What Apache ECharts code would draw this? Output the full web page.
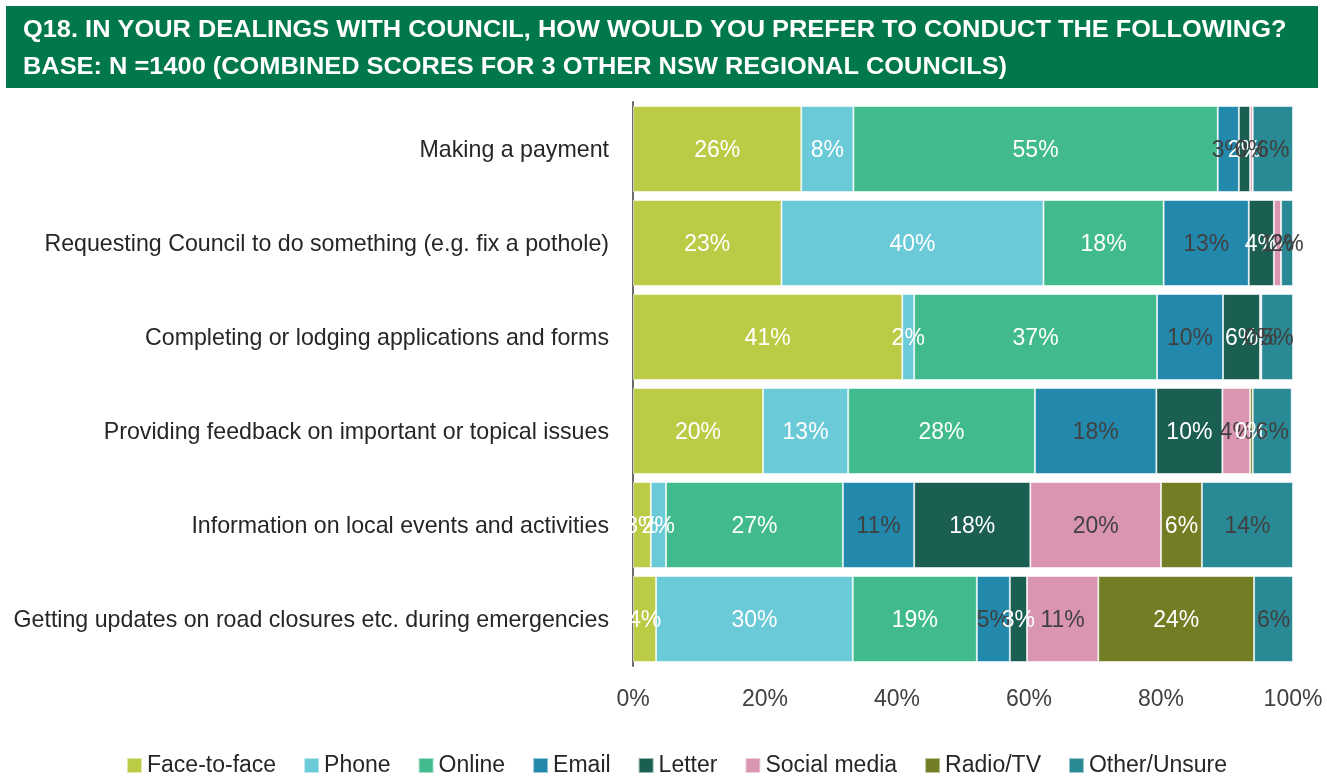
<!DOCTYPE html>
<html>
<head>
<meta charset="utf-8">
<script src="https://cdn.jsdelivr.net/npm/echarts@6/dist/echarts.min.js"></script>
<style>
  html, body { margin: 0; padding: 0; background: #fff; }
  #chart { width: 1327px; height: 776px; }
</style>
</head>
<body>
<div id="chart"></div>
<script>
// Survey rows (top to bottom)
const categories = [
  'Making a payment',
  'Requesting Council to do something (e.g. fix a pothole)',
  'Completing or lodging applications and forms',
  'Providing feedback on important or topical issues',
  'Information on local events and activities',
  'Getting updates on road closures etc. during emergencies'
];

// Preferred channel shares (%), one array per channel, in row order
const faceToFace  = [25.5, 22.5, 40.8, 19.7,  2.7,  3.5];
const phone       = [ 7.9, 39.7,  1.8, 12.9,  2.3, 29.8];
const online      = [55.2, 18.2, 36.8, 28.3, 26.8, 18.8];
const email       = [ 3.2, 12.9, 10.0, 18.4, 10.8,  5.0];
const letter      = [ 1.7,  3.8,  5.6, 10.0, 17.6,  2.6];
const socialMedia = [ 0.4,  1.1,  0.2,  4.2, 19.8, 10.8];
const radioTv     = [ 0,    0,    0,    0.4,  6.2, 23.6];
const otherUnsure = [ 6.1,  1.8,  4.8,  5.9, 13.8,  5.9];

const seriesNames = ['Face-to-face', 'Phone', 'Online', 'Email', 'Letter', 'Social media', 'Radio/TV', 'Other/Unsure'];
const seriesData  = [faceToFace, phone, online, email, letter, socialMedia, radioTv, otherUnsure];
const seriesColors = ['#BCCB45', '#6ACAD7', '#41BB8D', '#2389AC', '#1B5E52', '#DA95B0', '#737D24', '#298A96'];
const labelColors  = ['#ffffff', '#ffffff', '#ffffff', '#404040', '#ffffff', '#404040', '#ffffff', '#404040'];

const titleLines = [
  'Q18. IN YOUR DEALINGS WITH COUNCIL, HOW WOULD YOU PREFER TO CONDUCT THE FOLLOWING?',
  'BASE: N =1400 (COMBINED SCORES FOR 3 OTHER NSW REGIONAL COUNCILS)'
];

const xTicks = { min: 0, max: 100, interval: 20 };

const FONT = '"Liberation Sans", Arial, sans-serif';

const chart = echarts.init(document.getElementById('chart'), null, { renderer: 'canvas' });

const series = seriesNames.map((name, i) => ({
  name,
  type: 'bar',
  stack: 'total',
  barWidth: 86,
  data: seriesData[i],
  itemStyle: {
    color: seriesColors[i],
    borderColor: 'rgba(255,255,255,0.55)',
    borderWidth: 1
  },
  label: {
    show: true,
    position: 'inside',
    offset: [0, 2],
    color: labelColors[i],
    fontFamily: FONT,
    fontSize: 23,
    formatter: p => (p.value > 0 ? Math.round(p.value) + '%' : '')
  },
  emphasis: { disabled: true }
}));

chart.setOption({
  animation: false,
  backgroundColor: '#ffffff',
  graphic: [
    {
      type: 'rect',
      shape: { x: 6, y: 6, width: 1312, height: 82 },
      style: { fill: '#00784B' },
      z: -1
    },
    {
      type: 'group',
      x: 23,
      y: 18,
      scaleX: 1.058,
      children: titleLines.map((t, i) => ({
        type: 'text',
        x: 0,
        y: i * 37,
        style: {
          text: t,
          fill: '#ffffff',
          font: 'bold 24px "Liberation Sans", Arial, sans-serif',
          verticalAlign: 'top'
        }
      }))
    }
  ],
  legend: {
    data: seriesNames,
    top: 749,
    left: 121,
    icon: 'rect',
    itemWidth: 15,
    itemHeight: 15,
    itemGap: 27,
    textStyle: { fontFamily: FONT, fontSize: 23, color: '#262626' }
  },
  grid: { left: 633, right: 34, top: 102, bottom: 110, containLabel: false },
  xAxis: {
    type: 'value',
    min: xTicks.min,
    max: xTicks.max,
    interval: xTicks.interval,
    axisLine: { show: false },
    axisTick: { show: false },
    splitLine: { show: false },
    axisLabel: {
      formatter: '{value}%',
      fontFamily: FONT,
      fontSize: 23,
      color: '#404040',
      margin: 22
    }
  },
  yAxis: {
    type: 'category',
    data: categories,
    inverse: true,
    axisLine: { show: true, lineStyle: { color: '#6b6b6b', width: 2 } },
    axisTick: { show: false },
    axisLabel: {
      margin: 24,
      formatter: v => '{c|' + v + '}',
      rich: {
        c: {
          fontFamily: FONT,
          fontSize: 23.2,
          color: '#262626',
          padding: [4, 0, 0, 0]
        }
      }
    }
  },
  series
});
</script>
</body>
</html>
